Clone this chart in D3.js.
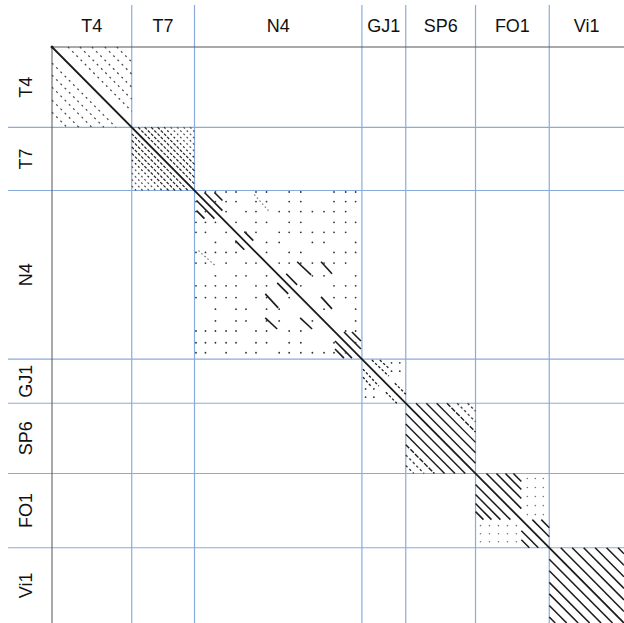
<!DOCTYPE html>
<html><head><meta charset="utf-8">
<script src="https://cdn.jsdelivr.net/npm/d3@7"></script>
<style>body{margin:0;background:#fff}svg{display:block}</style>
</head><body><svg id="c" width="624" height="623"></svg>
<script>
// ---------------- data ----------------
const genomes = ["T4","T7","N4","GJ1","SP6","FO1","Vi1"];
const lengths = [80, 63, 168, 44, 70, 74, 75];

// repeated full-length parallel diagonals (offset from main diagonal, symmetric)
const offsetsT4  = [16, 28, 40, 53, 65];
const offsetsT7  = [6.5, 13, 19.5, 26, 32.5, 39, 45.5, 52, 58.5];
const offsetsSP6 = [10.3, 20.6, 31, 41.3, 51.6, 62];
const offsetsVi1 = [11.5, 23, 34.5, 46, 57.5, 69];

// explicit segments (upper triangle, local coords x0,y0,x1,y1), mirrored
const segN4 = [[10,2,28,20],[20,2,28,10],[50,41,59,50],[103,71,117,84],[127,71,138,83],
               [92,83,103,94],[127,106,138,118],[150,141,167,158],[158,141,167,150]];
const segN4faint = [[60,4,75,21]];
const segGJ1 = [[10,1,27,17],[18,1,28,10],[33,24,44,35]];
const segFO1 = [[11,0,46,35],[21,0,46,25],[30,0,46,16],[38,0,46,8],[57,46,74,63],[66,46,74,54]];

// scattered match dots (grid positions, local coords)
const dotsN4 = [1.5,11,21,31.7,41.7,51.7,61.7,72.3,85,95,106.7,118.3,130,140,151.7,161.7];
const dotsGJ1 = [29.7, 38];
const dotsGJ1b = [3.7, 12];
const dotsFO1x = [52, 60, 68];
const dotsFO1y = [5, 14, 23, 32, 41];

// ---------------- drawing ----------------
const svg = d3.select("#c");
const total = d3.sum(lengths);
const starts = lengths.map((l,i)=>d3.sum(lengths.slice(0,i)));
const x = d3.scaleLinear().domain([0,total]).range([52,624]);
const y = d3.scaleLinear().domain([0,total]).range([47,623]);
const blue = "#8aacdc", ink = "#1a1a1a";

// grid separators
starts.slice(1).forEach(s=>{
  svg.append("line").attr("x1",x(s)).attr("x2",x(s)).attr("y1",5).attr("y2",623)
     .attr("stroke",blue).attr("stroke-width",1.2);
  svg.append("line").attr("y1",y(s)).attr("y2",y(s)).attr("x1",8).attr("x2",624)
     .attr("stroke",blue).attr("stroke-width",1.2);
});
// frame
svg.append("line").attr("x1",x(0)).attr("x2",624).attr("y1",y(0)).attr("y2",y(0)).attr("stroke","#555").attr("stroke-width",1);
svg.append("line").attr("x1",x(0)).attr("x2",x(0)).attr("y1",y(0)).attr("y2",623).attr("stroke","#555").attr("stroke-width",1);

// labels
genomes.forEach((g,i)=>{
  const cx = (x(starts[i])+x(starts[i]+lengths[i]))/2;
  const cy = (y(starts[i])+y(starts[i]+lengths[i]))/2;
  svg.append("text").attr("x",cx).attr("y",32).attr("text-anchor","middle")
     .attr("font-family","Liberation Sans, Arial, sans-serif").attr("font-size",18).attr("fill","#111").text(g);
  svg.append("text").attr("transform",`translate(32,${cy}) rotate(-90)`).attr("text-anchor","middle")
     .attr("font-family","Liberation Sans, Arial, sans-serif").attr("font-size",18).attr("fill","#111").text(g);
});

const marks = svg.append("g");
function seg(gi, x0,y0,x1,y1, opts){
  const s = starts[gi];
  marks.append("line").attr("x1",x(s+x0)).attr("y1",y(s+y0)).attr("x2",x(s+x1)).attr("y2",y(s+y1))
    .attr("stroke",opts.color||ink).attr("stroke-width",opts.w||1.3)
    .attr("stroke-dasharray",opts.dash||null).attr("stroke-linecap","butt");
}
function segMirror(gi, a, opts){
  seg(gi, a[0],a[1],a[2],a[3],opts);
  seg(gi, a[1],a[0],a[3],a[2],opts);
}
function offsetLines(gi, offs, styleFn){
  const L = lengths[gi];
  offs.forEach((d,k)=>{
    const o = styleFn(k,d);
    seg(gi, d,0,L,L-d,o);
    seg(gi, 0,d,L-d,L,o);
  });
}
function dots(gi, xs, ys, filter, col, r){
  const s = starts[gi];
  xs.forEach(a=>ys.forEach(b=>{
    if(filter(a,b)){
      marks.append("circle").attr("cx",x(s+a)).attr("cy",y(s+b)).attr("r",r||0.9).attr("fill",col||"#333");
    }
  }));
}

// T4
offsetLines(0, offsetsT4, k=>({dash:"2,4", color:"#444", w:1.2}));
// T7
offsetLines(1, offsetsT7, k=>({dash: k<4 ? "3,1.5" : "2,2.5", color: k<5?"#222":"#555", w:1.2}));
// N4
segN4.forEach(a=>segMirror(2,a,{w:1.6}));
segN4faint.forEach(a=>segMirror(2,a,{dash:"1.5,2.5",color:"#666",w:1.1}));
dots(2, dotsN4, dotsN4, (a,b)=>Math.abs(a-b)>8 && ((Math.round(a)+Math.round(b))%3!==0));
// GJ1
segGJ1.forEach(a=>segMirror(3,a,{dash:"2.5,2",w:1.3}));
dots(3, dotsGJ1, dotsGJ1b, ()=>true);
dots(3, dotsGJ1b, dotsGJ1, ()=>true);
// SP6
offsetLines(4, offsetsSP6, k=>({dash: k<3 ? null : (k<4 ? "5,1.5" : "2.5,2.5"), w:1.4, color: k<4?ink:"#444"}));
// FO1
segFO1.forEach(a=>segMirror(5,a,{w:1.5}));
dots(5, dotsFO1x, dotsFO1y, ()=>true, "#777", 0.8);
dots(5, dotsFO1y, dotsFO1x, ()=>true, "#777", 0.8);
// Vi1
offsetLines(6, offsetsVi1, k=>({w:1.5}));

// main diagonal
marks.append("line").attr("x1",x(0)).attr("y1",y(0)).attr("x2",x(total)).attr("y2",y(total))
  .attr("stroke",ink).attr("stroke-width",1.8);
marks.append("circle").attr("cx",x(0)).attr("cy",y(0)).attr("r",1.5).attr("fill",ink);
</script></body></html>
